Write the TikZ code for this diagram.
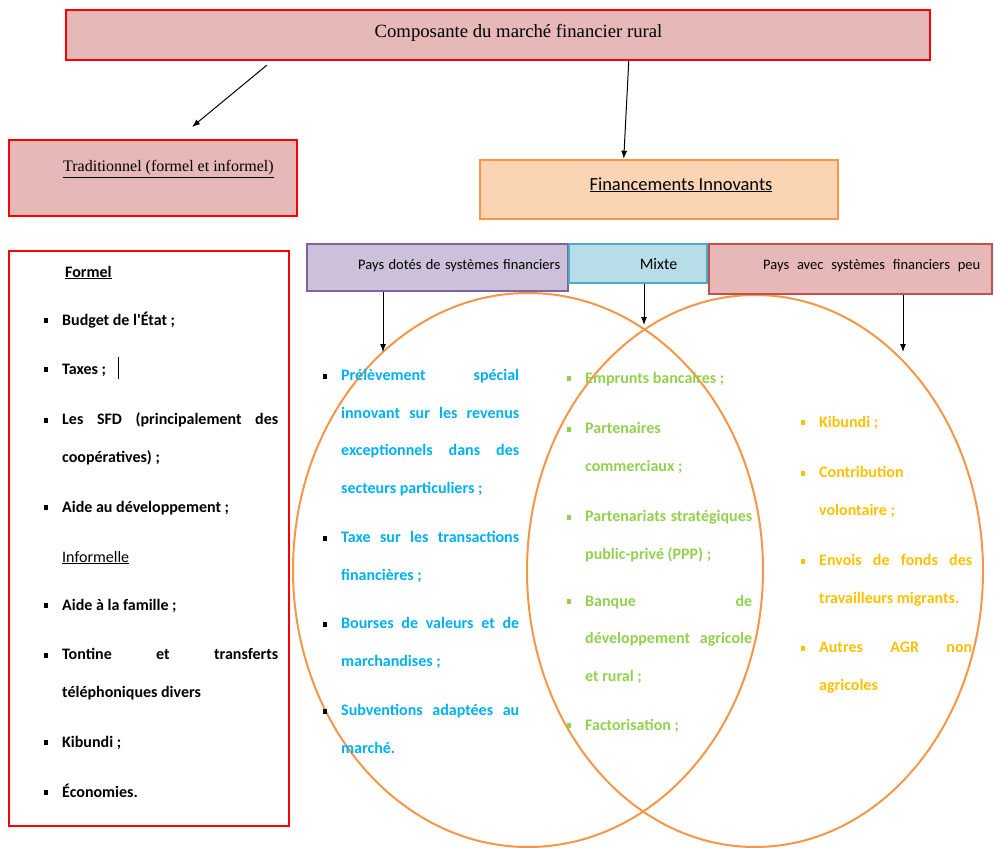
\documentclass[tikz,border=0pt]{standalone}
\usepackage{fontspec}
\setmainfont{Liberation Serif}
\newfontfamily\calibri{Carlito}
\usetikzlibrary{arrows.meta}

\definecolor{rosefill}{HTML}{E6B8B7}
\definecolor{rougevif}{HTML}{FF0000}
\definecolor{pechefill}{HTML}{FBD4B4}
\definecolor{orangebord}{HTML}{F79646}
\definecolor{violetfill}{HTML}{CCC0DA}
\definecolor{violetbord}{HTML}{8064A2}
\definecolor{bleufill}{HTML}{B7DEE8}
\definecolor{bleubord}{HTML}{4BACC6}
\definecolor{rougebord}{HTML}{C0504D}
\definecolor{bleutexte}{HTML}{00B0F0}
\definecolor{verttexte}{HTML}{92D050}
\definecolor{ortexte}{HTML}{FFC000}

\newcommand\puce[1]{\makebox[0pt][r]{\textcolor{#1}{\rule[2pt]{4.5pt}{5pt}}\hspace{14pt}}}
\newcommand\jl[2]{\makebox[#1pt][s]{#2}}

\tikzset{
    boite/.style={draw, line width=2pt, inner sep=0pt},
    fleche/.style={-{Latex[length=8pt,width=6pt]}, line width=1pt},
    cercle/.style={draw=orangebord, line width=2pt},
    item/.style={anchor=base west, inner sep=0pt, align=left,
        font=\calibri\bfseries\fontsize{16}{37.5}\selectfont},
}

\begin{document}
\begin{tikzpicture}[x=1pt, y=-1pt]
                \useasboundingbox (0,0) rectangle (994,848);

                % Circles
                \draw[cercle] (528,570) ellipse [x radius=235, y radius=277];
                \draw[cercle] (755,571) ellipse [x radius=228, y radius=276];

                % Boxes
                \node[boite, draw=rougevif, fill=rosefill, line width=2.5pt, minimum width=864, minimum height=50] (top) at (498,35) {};
                \node[boite, draw=rougevif, fill=rosefill, line width=2.5pt, minimum width=288, minimum height=76] (trad) at (153,178) {};
                \node[boite, draw=orangebord, fill=pechefill, line width=2.5pt, minimum width=358, minimum height=59] (innov) at (659,189.5) {};
                \node[boite, draw=violetbord, fill=violetfill, minimum width=261, minimum height=47] (pays1) at (437.5,267.5) {};
                \node[boite, draw=bleubord, fill=bleufill, minimum width=138, minimum height=39] (mixte) at (638,263.5) {};
                \node[boite, draw=rougebord, fill=rosefill, minimum width=283, minimum height=50] (pays2) at (850.5,269) {};
                \node[boite, draw=rougevif, fill=white, minimum width=280, minimum height=575] (liste) at (149,538.5) {};

                % Box texts
                \node[anchor=base, inner sep=0pt, font=\fontsize{18.7}{22}\selectfont] (titre) at (518.5,38) {Composante du marché financier rural};
                \node[anchor=base west, inner sep=0pt, font=\fontsize{16}{19}\selectfont] (tradtxt) at (63,172) {\underline{Traditionnel (formel et informel)}};
                \node[anchor=base, inner sep=0pt, font=\calibri\fontsize{18.5}{22}\selectfont] (innovtxt) at (681,190) {\underline{Financements Innovants}};
                \node[anchor=base west, inner sep=0pt, font=\calibri\fontsize{14.5}{17}\selectfont] (pays1txt) at (358,269) {\jl{202}{Pays dotés de systèmes financiers}};
                \node[anchor=base, inner sep=0pt, font=\calibri\fontsize{16}{19}\selectfont] (mixtetxt) at (658.5,269.5) {Mixte};
                \node[anchor=base west, inner sep=0pt, font=\calibri\fontsize{14.5}{17}\selectfont] (pays2txt) at (763,269) {\jl{217}{Pays avec systèmes financiers peu}};

                % Traditional list (base = last line)
                \node[item] (formel) at (65,277) {\underline{Formel}};
                \node[item] (t1) at (62,325) {\puce{black}Budget de l'État ;};
                \node[item] (t2) at (62,374) {\puce{black}Taxes ;\hspace{12pt}\rule[-5pt]{0.6pt}{22pt}};
                \node[item] (t3) at (62,462) {\puce{black}\jl{216}{Les SFD (principalement des}\\coopératives) ;};
                \node[item] (t4) at (62,512) {\puce{black}Aide au développement ;};
                \node[item, font=\calibri\fontsize{16}{37.5}\selectfont] (informel) at (62,562) {\underline{Informelle}};
                \node[item] (t5) at (62,610) {\puce{black}Aide à la famille ;};
                \node[item] (t6) at (62,697) {\puce{black}\jl{216}{Tontine et transferts}\\téléphoniques divers};
                \node[item] (t7) at (62,747) {\puce{black}Kibundi ;};
                \node[item] (t8) at (62,797) {\puce{black}Économies.};

                % Left circle
                \node[item, text=bleutexte] (b1) at (341,493) {\puce{black}\jl{178}{Prélèvement spécial}\\\jl{178}{innovant sur les revenus}\\\jl{178}{exceptionnels dans des}\\secteurs particuliers ;};
                \node[item, text=bleutexte] (b2) at (341,580) {\puce{black}\jl{178}{Taxe sur les transactions}\\financières ;};
                \node[item, text=bleutexte] (b3) at (341,666) {\puce{black}\jl{178}{Bourses de valeurs et de}\\marchandises ;};
                \node[item, text=bleutexte] (b4) at (341,753) {\puce{black}\jl{178}{Subventions adaptées au}\\marché.};

                % Overlap
                \node[item, text=verttexte] (v1) at (585,383) {\puce{verttexte}Emprunts bancaires ;};
                \node[item, text=verttexte] (v2) at (585,471) {\puce{verttexte}Partenaires\\commerciaux ;};
                \node[item, text=verttexte] (v3) at (585,559) {\puce{verttexte}\jl{167}{Partenariats stratégiques}\\public-privé (PPP) ;};
                \node[item, text=verttexte] (v4) at (585,681) {\puce{verttexte}\jl{167}{Banque de}\\\jl{167}{développement agricole}\\et rural ;};
                \node[item, text=verttexte] (v5) at (585,730) {\puce{verttexte}Factorisation ;};

                % Right circle
                \node[item, text=ortexte] (o1) at (819,427) {\puce{ortexte}Kibundi ;};
                \node[item, text=ortexte] (o2) at (819,515) {\puce{ortexte}Contribution\\volontaire ;};
                \node[item, text=ortexte] (o3) at (819,603) {\puce{ortexte}\jl{153}{Envois de fonds des}\\travailleurs migrants.};
                \node[item, text=ortexte] (o4) at (819,690) {\puce{ortexte}\jl{153}{Autres AGR non}\\agricoles};

                % Edges
                \coordinate (pointe1) at (192,127);
                \coordinate (pointe3) at (383,352);
                \coordinate (pointe4) at (644,325);
                \coordinate (pointe5) at (903,352);
                \draw[fleche] ([shift={(202,4)}]top.south west) -- (pointe1);
                \draw[fleche] ([xshift=564pt]top.south west) -- ([xshift=145pt]innov.north west);
                \draw[fleche] (pays1.south -| pointe3) -- (pointe3);
                \draw[fleche] (mixte.south -| pointe4) -- (pointe4);
                \draw[fleche] (pays2.south -| pointe5) -- (pointe5);
\end{tikzpicture}
\end{document}
